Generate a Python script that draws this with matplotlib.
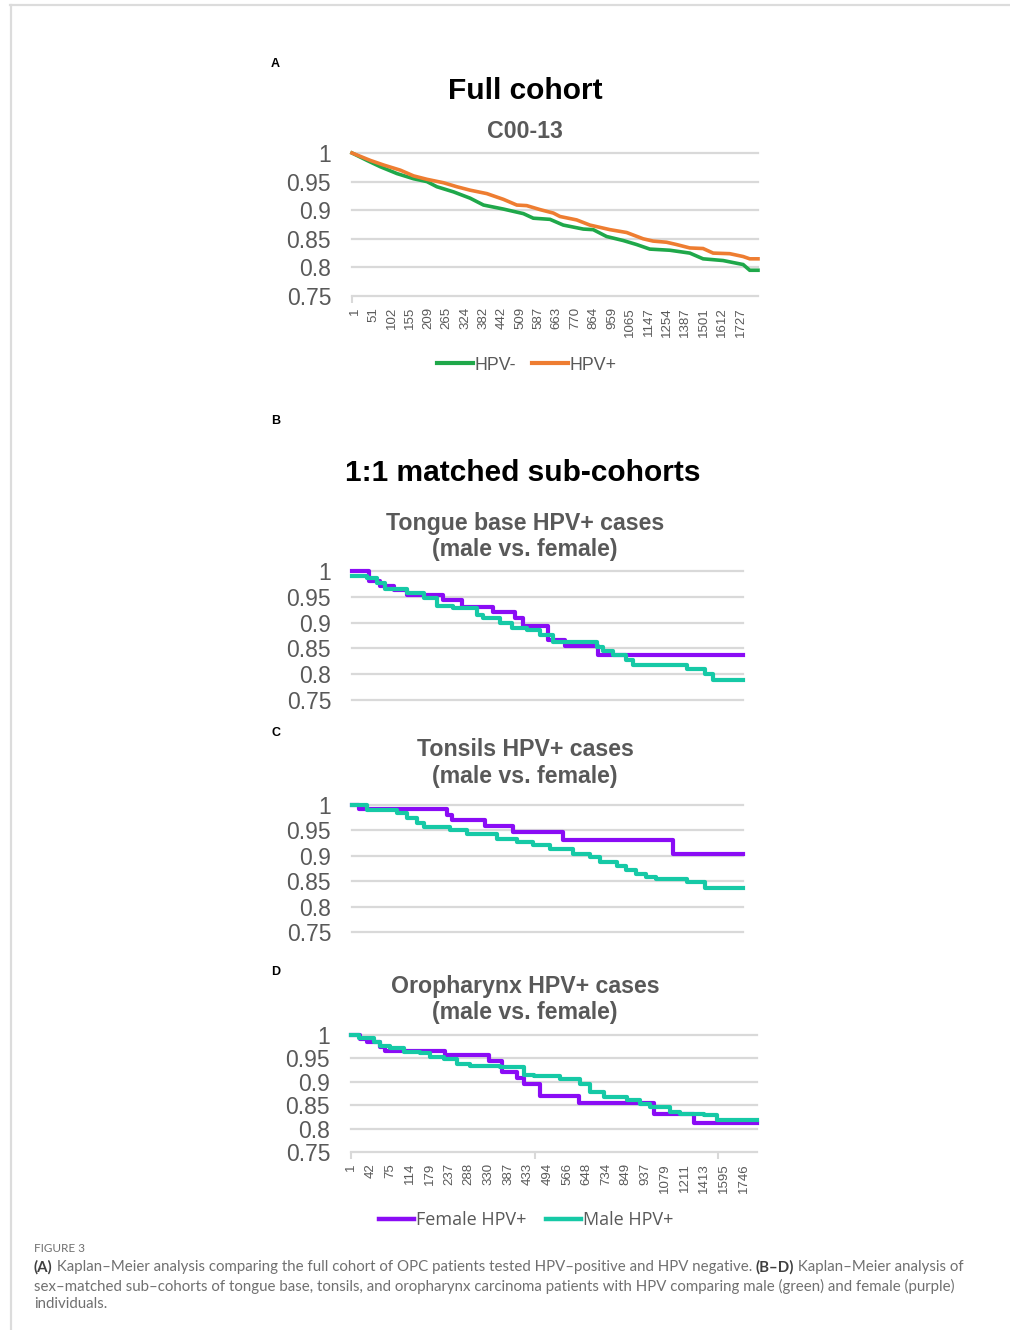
import matplotlib
matplotlib.use("Agg")
import matplotlib.pyplot as plt
from matplotlib.lines import Line2D

W, H = 1010, 1330

# ---- data ----
# panel A: full cohort, x in label-step units
a_labels = ["1", "51", "102", "155", "209", "265", "324", "382", "442", "509", "587",
            "663", "770", "864", "959", "1065", "1147", "1254", "1387", "1501", "1612", "1727"]
a_neg_x = [0, 0.82, 1.54, 2.45, 3.35, 4.08, 4.62, 5.53, 6.43, 7.16, 8.24, 9.33, 9.87, 10.78,
           11.50, 12.59, 13.13, 13.86, 14.76, 15.49, 16.21, 17.30, 18.39, 19.11, 20.20,
           21.29, 21.65, 22.10]
a_neg_y = [1.000, 0.987, 0.976, 0.964, 0.955, 0.950, 0.941, 0.932, 0.921, 0.909, 0.902,
           0.894, 0.886, 0.884, 0.874, 0.867, 0.866, 0.854, 0.847, 0.840, 0.832, 0.830,
           0.825, 0.815, 0.812, 0.805, 0.795, 0.795]
a_pos_x = [0, 1.00, 1.72, 2.63, 3.35, 4.08, 4.98, 5.71, 6.43, 7.34, 8.24, 8.97, 9.51, 10.24,
           10.96, 11.32, 12.23, 12.95, 14.04, 14.95, 15.85, 16.39, 17.12, 17.66, 18.39,
           19.11, 19.66, 20.56, 21.29, 21.65, 22.10]
a_pos_y = [1.000, 0.987, 0.979, 0.970, 0.960, 0.954, 0.948, 0.941, 0.935, 0.929, 0.919,
           0.909, 0.908, 0.901, 0.895, 0.889, 0.883, 0.874, 0.866, 0.861, 0.850, 0.846,
           0.844, 0.840, 0.834, 0.833, 0.825, 0.824, 0.819, 0.815, 0.815]

# panel B: tongue base
b_fem_x = [0, 0.85, 1.45, 2.13, 2.81, 4.68, 5.62, 7.23, 8.34, 8.77, 10.04, 10.89, 12.60, 20.0]
b_fem_y = [1.000, 0.981, 0.970, 0.964, 0.953, 0.944, 0.931, 0.921, 0.908, 0.893, 0.866,
           0.855, 0.837, 0.837]
b_mal_x = [0, 0.77, 1.28, 1.70, 2.81, 3.66, 4.34, 5.19, 6.38, 6.72, 7.57, 8.17, 8.94, 9.62,
           10.30, 12.51, 12.85, 13.36, 14.04, 14.38, 17.11, 18.04, 18.47, 20.0]
b_mal_y = [0.990, 0.986, 0.976, 0.966, 0.957, 0.948, 0.933, 0.929, 0.915, 0.908, 0.899,
           0.890, 0.886, 0.876, 0.863, 0.853, 0.844, 0.837, 0.827, 0.818, 0.811, 0.800,
           0.789, 0.789]

# panel C: tonsils
c_fem_x = [0, 0.34, 4.85, 5.11, 6.81, 8.26, 10.81, 16.43, 20.0]
c_fem_y = [1.000, 0.992, 0.980, 0.970, 0.959, 0.947, 0.932, 0.903, 0.903]
c_mal_x = [0, 0.77, 2.30, 2.81, 3.32, 3.66, 5.02, 5.87, 7.40, 8.43, 9.28, 10.13, 11.32,
           12.17, 12.68, 13.53, 14.04, 14.55, 15.06, 15.57, 17.11, 18.04, 20.0]
c_mal_y = [1.000, 0.990, 0.984, 0.974, 0.964, 0.957, 0.951, 0.942, 0.934, 0.928, 0.921,
           0.914, 0.903, 0.898, 0.888, 0.880, 0.873, 0.865, 0.859, 0.854, 0.849, 0.837, 0.837]

# panel D: oropharynx
d_labels = ["1", "42", "75", "114", "179", "237", "288", "330", "387", "433", "494", "566",
            "648", "734", "849", "937", "1079", "1211", "1413", "1595", "1746"]
d_fem_x = [0, 0.48, 0.81, 1.49, 1.75, 4.80, 7.01, 7.69, 8.46, 8.79, 9.64, 11.60, 15.42,
           17.45, 20.68]
d_fem_y = [1.000, 0.991, 0.984, 0.975, 0.966, 0.957, 0.945, 0.921, 0.909, 0.895, 0.869,
           0.854, 0.832, 0.811, 0.811]
d_mal_x = [0, 0.39, 1.15, 1.49, 2.00, 2.68, 3.53, 4.04, 4.72, 5.40, 6.08, 7.61, 8.79, 9.30,
           10.66, 11.68, 12.19, 12.87, 13.21, 14.06, 14.74, 15.25, 16.27, 16.78, 17.97,
           18.65, 20.68]
d_mal_y = [1.000, 0.993, 0.985, 0.976, 0.973, 0.964, 0.961, 0.954, 0.948, 0.939, 0.934,
           0.931, 0.914, 0.912, 0.907, 0.895, 0.879, 0.868, 0.867, 0.861, 0.852, 0.846,
           0.836, 0.832, 0.830, 0.819, 0.819]

yticks = [0.75, 0.8, 0.85, 0.9, 0.95, 1.0]
ytick_labels = ["0.75", "0.8", "0.85", "0.9", "0.95", "1"]

GREEN = "#1fa84a"
ORANGE = "#ee7d31"
PURPLE = "#8a0cf5"
TEAL = "#16c9a6"
GRAY = "#595959"
GRID = "#d9d9d9"
ARIAL = "Liberation Sans"

fig = plt.figure(figsize=(W / 100, H / 100), dpi=100)


def px(x, y):
    return x / W, 1 - y / H


def make_axes(left, top, right, bottom, xmax):
    ax = fig.add_axes([left / W, 1 - bottom / H, (right - left) / W, (bottom - top) / H])
    ax.set_xlim(0, xmax)
    ax.set_ylim(0.75, 1.0)
    for s in ax.spines.values():
        s.set_visible(False)
    ax.set_yticks(yticks)
    ax.set_yticklabels(ytick_labels, fontsize=16.5, color=GRAY, family=ARIAL)
    ax.tick_params(axis="y", length=0, pad=15)
    for v in yticks:
        ax.axhline(v, color=GRID, lw=1.6, zorder=0, clip_on=False)
    ax.set_xticks([])
    return ax


def xlabels(ax, labels, offset, ticks):
    ax.xaxis.remove_overlapping_locs = False
    ax.set_xticks([i + offset for i in range(len(labels))])
    ax.set_xticklabels(labels, rotation=90, fontsize=9.5, color=GRAY, family=ARIAL)
    ax.tick_params(axis="x", which="major", length=0, pad=8)
    ax.set_xticks(ticks, minor=True)
    ax.tick_params(axis="x", which="minor", length=5, color=GRID, width=1.5)


def title2(y1, y2, lines):
    fig.text(*px(525, y1), lines[0], ha="center", va="center", fontsize=16.7,
             fontweight="bold", color=GRAY, family=ARIAL)
    if lines[1]:
        fig.text(*px(525, y2), lines[1], ha="center", va="center", fontsize=16.7,
                 fontweight="bold", color=GRAY, family=ARIAL)


def panel_letter(y, s):
    fig.text(*px(271, y), s, ha="left", va="center", fontsize=9, fontweight="bold",
             color="black", family=ARIAL)


# ---- panel A ----
panel_letter(64, "A")
fig.text(*px(525, 91), "Full cohort", ha="center", va="center", fontsize=21.5,
         fontweight="bold", color="black", family=ARIAL)
title2(131, None, ["C00-13", None])
axA = make_axes(352, 153, 758, 296, 22.1)
axA.plot(a_neg_x, a_neg_y, color=GREEN, lw=2.6, clip_on=False, solid_joinstyle="miter")
axA.plot(a_pos_x, a_pos_y, color=ORANGE, lw=2.6, clip_on=False, solid_joinstyle="miter")
xlabels(axA, a_labels, 0.15, [0])
leg_a = [Line2D([], [], color=GREEN, lw=3), Line2D([], [], color=ORANGE, lw=3)]
fig.legend(leg_a, ["HPV-", "HPV+"], loc="center", bbox_to_anchor=px(527, 365), ncol=2,
           frameon=False, handlelength=2.0, handletextpad=0.1, columnspacing=0.9,
           prop={"family": ARIAL, "size": 12.8}, labelcolor=GRAY)

# ---- panel B ----
panel_letter(421, "B")
fig.text(*px(523, 473), "1:1 matched sub-cohorts", ha="center", va="center", fontsize=21.5,
         fontweight="bold", color="black", family=ARIAL)
title2(524, 550, ["Tongue base HPV+ cases", "(male vs. female)"])
axB = make_axes(352, 571, 743, 700, 20.0)
axB.plot(b_fem_x, b_fem_y, color=PURPLE, lw=3, drawstyle="steps-post", clip_on=False)
axB.plot(b_mal_x, b_mal_y, color=TEAL, lw=3, drawstyle="steps-post", clip_on=False)

# ---- panel C ----
panel_letter(733, "C")
title2(749, 776, ["Tonsils HPV+ cases", "(male vs. female)"])
axC = make_axes(352, 805, 743, 932, 20.0)
axC.plot(c_fem_x, c_fem_y, color=PURPLE, lw=3, drawstyle="steps-post", clip_on=False)
axC.plot(c_mal_x, c_mal_y, color=TEAL, lw=3, drawstyle="steps-post", clip_on=False)

# ---- panel D ----
panel_letter(972, "D")
title2(986, 1012, ["Oropharynx HPV+ cases", "(male vs. female)"])
axD = make_axes(351, 1035, 757, 1152, 20.68)
axD.plot(d_fem_x, d_fem_y, color=PURPLE, lw=3, drawstyle="steps-post", clip_on=False)
axD.plot(d_mal_x, d_mal_y, color=TEAL, lw=3, drawstyle="steps-post", clip_on=False)
xlabels(axD, d_labels, 0, [0, 9.35, 18.7])
leg_d = [Line2D([], [], color=PURPLE, lw=3.2), Line2D([], [], color=TEAL, lw=3.2)]
fig.legend(leg_d, ["Female HPV+", "Male HPV+"], loc="center", bbox_to_anchor=px(526, 1220),
           ncol=2, frameon=False, handlelength=1.95, handletextpad=0.1, columnspacing=1.1,
           prop={"family": "Open Sans", "size": 13}, labelcolor=GRAY)

# ---- frame ----
fig.add_artist(Line2D([10 / W, 1], [1 - 5 / H, 1 - 5 / H], color="#dcdcdc", lw=1.6))
fig.add_artist(Line2D([11 / W, 11 / W], [0, 1 - 5 / H], color="#dcdcdc", lw=1.6))

# ---- caption ----
CAP = "#707070"
CAPB = "#404040"
CAPFONT = "Lato"
fig.text(*px(34, 1249), "FIGURE 3", ha="left", va="center", fontsize=8.5, color=CAP,
         family=CAPFONT)

renderer = fig.canvas.get_renderer()


def rich_line(y, pieces):
    x = 34
    for s, bold in pieces:
        t = fig.text(*px(x, y), s, ha="left", va="center", fontsize=10.8,
                     color=CAPB if bold else CAP, fontweight="bold" if bold else "normal",
                     family=CAPFONT)
        x += t.get_window_extent(renderer).width


rich_line(1267, [("(A)", True),
                 (" Kaplan\u2013Meier analysis comparing the full cohort of OPC patients tested "
                  "HPV\u2013positive and HPV negative. ", False),
                 ("(B\u2013D)", True), (" Kaplan\u2013Meier analysis of", False)])
rich_line(1286, [("sex\u2013matched sub\u2013cohorts of tongue base, tonsils, and oropharynx "
                  "carcinoma patients with HPV comparing male (green) and female (purple)", False)])
rich_line(1304, [("individuals.", False)])

fig.savefig("out.png", dpi=100)
